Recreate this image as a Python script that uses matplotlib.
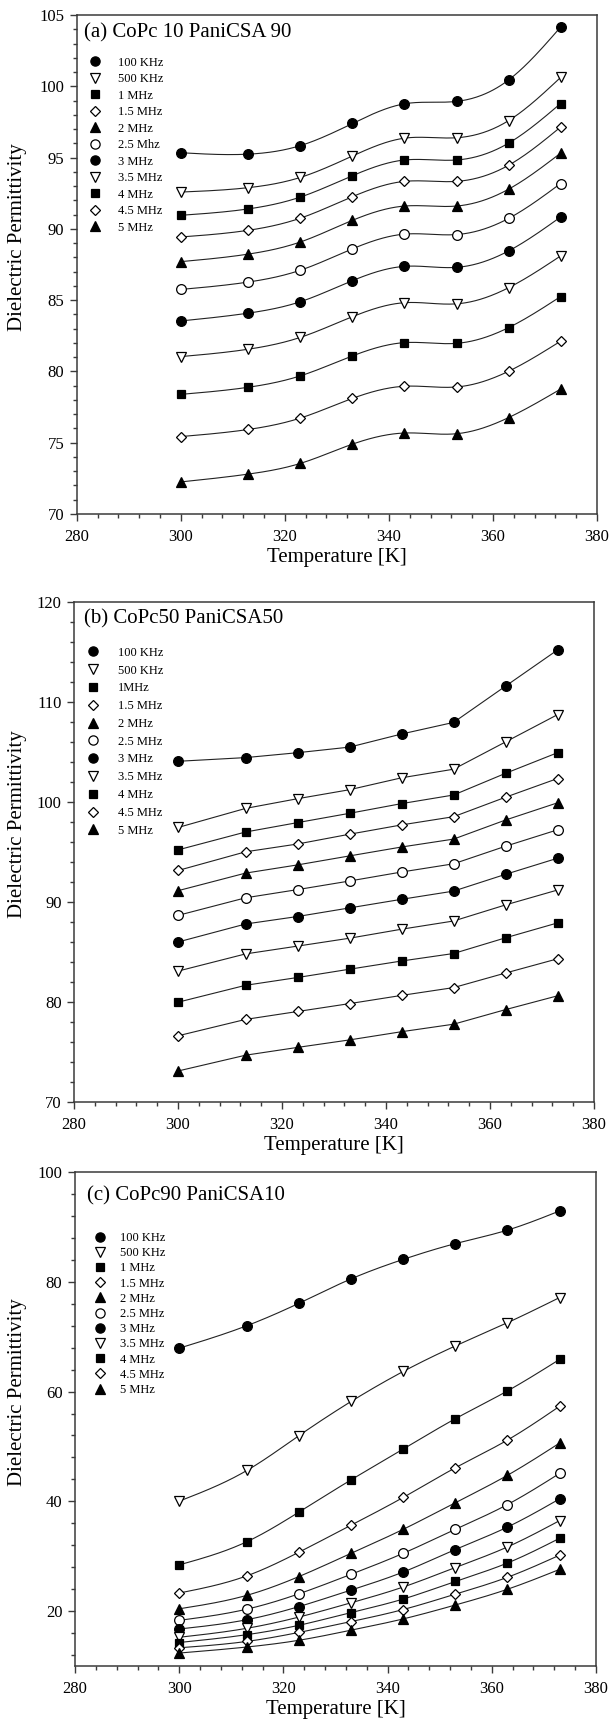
import numpy as np
import matplotlib
matplotlib.use("Agg")
import matplotlib.pyplot as plt
from matplotlib.lines import Line2D
from matplotlib.ticker import MultipleLocator

plt.rcParams['font.family'] = ['Liberation Serif', 'DejaVu Serif']

# --- data ---
temps = [300, 313, 323, 333, 343, 353, 363, 373]

labels_a = ["100 KHz", "500 KHz", "1 MHz", "1.5 MHz", "2 MHz", "2.5 Mhz",
            "3 MHz", "3.5 MHz", "4 MHz", "4.5 MHz", "5 MHz"]
labels_b = ["100 KHz", "500 KHz", "1MHz", "1.5 MHz", "2 MHz", "2.5 MHz",
            "3 MHz", "3.5 MHz", "4 MHz", "4.5 MHz", "5 MHz"]
labels_c = ["100 KHz", "500 KHz", "1 MHz", "1.5 MHz", "2 MHz", "2.5 MHz",
            "3 MHz", "3.5 MHz", "4 MHz", "4.5 MHz", "5 MHz"]

eps_a = [
    [95.34, 95.24, 95.84, 97.39, 98.77, 98.94, 100.44, 104.15],
    [92.58, 92.89, 93.61, 95.11, 96.36, 96.39, 97.59, 100.62],
    [90.95, 91.40, 92.23, 93.73, 94.83, 94.83, 96.01, 98.79],
    [89.43, 89.90, 90.75, 92.26, 93.33, 93.33, 94.46, 97.14],
    [87.70, 88.23, 89.08, 90.60, 91.60, 91.60, 92.78, 95.31],
    [85.75, 86.27, 87.10, 88.60, 89.63, 89.60, 90.73, 93.18],
    [83.54, 84.09, 84.89, 86.37, 87.37, 87.30, 88.45, 90.83],
    [81.04, 81.56, 82.39, 83.84, 84.82, 84.74, 85.87, 88.10],
    [78.39, 78.89, 79.69, 81.09, 82.02, 81.97, 83.07, 85.25],
    [75.43, 75.93, 76.73, 78.11, 78.96, 78.91, 80.01, 82.12],
    [72.25, 72.80, 73.55, 74.90, 75.68, 75.63, 76.76, 78.76],
]
eps_b = [
    [104.07, 104.44, 104.93, 105.49, 106.80, 107.96, 111.59, 115.21],
    [97.45, 99.36, 100.33, 101.23, 102.42, 103.28, 106.01, 108.74],
    [95.21, 97.00, 97.94, 98.87, 99.84, 100.70, 102.87, 104.93],
    [93.15, 95.02, 95.80, 96.78, 97.71, 98.53, 100.48, 102.35],
    [91.13, 92.89, 93.71, 94.61, 95.50, 96.29, 98.20, 99.92],
    [88.66, 90.42, 91.24, 92.10, 93.00, 93.82, 95.58, 97.22],
    [86.00, 87.80, 88.55, 89.41, 90.27, 91.09, 92.77, 94.38],
    [83.09, 84.81, 85.59, 86.38, 87.28, 88.10, 89.71, 91.20],
    [79.98, 81.67, 82.45, 83.28, 84.10, 84.85, 86.42, 87.91],
    [76.62, 78.26, 79.05, 79.84, 80.66, 81.44, 82.90, 84.32],
    [73.10, 74.68, 75.46, 76.21, 77.03, 77.78, 79.24, 80.62],
]
eps_c = [
    [67.90, 72.00, 76.09, 80.53, 84.08, 86.95, 89.41, 92.90],
    [40.03, 45.63, 51.98, 58.20, 63.66, 68.31, 72.54, 77.12],
    [28.42, 32.65, 38.05, 43.92, 49.52, 55.05, 60.11, 65.85],
    [23.29, 26.43, 30.74, 35.66, 40.71, 46.11, 51.16, 57.31],
    [20.42, 22.88, 26.30, 30.53, 34.90, 39.75, 44.74, 50.61],
    [18.31, 20.36, 23.16, 26.71, 30.53, 34.90, 39.41, 45.08],
    [16.74, 18.44, 20.83, 23.84, 27.12, 31.22, 35.31, 40.44],
    [15.23, 16.87, 18.92, 21.52, 24.39, 27.94, 31.69, 36.48],
    [14.28, 15.71, 17.42, 19.74, 22.20, 25.41, 28.76, 33.26],
    [13.32, 14.48, 16.12, 18.10, 20.29, 23.09, 26.16, 30.19],
    [12.36, 13.46, 14.69, 16.53, 18.58, 21.11, 23.98, 27.60],
]

# marker style per frequency: (marker, filled, size)
styles = [("o", True, 7), ("v", False, 7), ("s", True, 6), ("D", False, 5.5),
          ("^", True, 7), ("o", False, 7), ("o", True, 7), ("v", False, 7),
          ("s", True, 6), ("D", False, 5.5), ("^", True, 7)]


def spline(x, y, n=300):
    # natural cubic spline, only used to draw the smooth connecting curve
    x = np.asarray(x, float)
    y = np.asarray(y, float)
    m = len(x)
    h = np.diff(x)
    A = np.zeros((m, m))
    r = np.zeros(m)
    A[0, 0] = A[-1, -1] = 1
    for i in range(1, m - 1):
        A[i, i - 1] = h[i - 1]
        A[i, i] = 2 * (h[i - 1] + h[i])
        A[i, i + 1] = h[i]
        r[i] = 6 * ((y[i + 1] - y[i]) / h[i] - (y[i] - y[i - 1]) / h[i - 1])
    M = np.linalg.solve(A, r)
    xs = np.linspace(x[0], x[-1], n)
    k = np.clip(np.searchsorted(x, xs) - 1, 0, m - 2)
    t0 = x[k + 1] - xs
    t1 = xs - x[k]
    hk = h[k]
    ys = (M[k] * t0**3 + M[k + 1] * t1**3) / (6 * hk) \
        + (y[k] / hk - M[k] * hk / 6) * t0 + (y[k + 1] / hk - M[k + 1] * hk / 6) * t1
    return xs, ys


W, H = 609, 1729
LEG_FS = 9
fig = plt.figure(figsize=(W / 100, H / 100), dpi=100)

# panel boxes in pixels: left, top, right, bottom
# legend targets in pixels: first row centre y, row spacing, marker x, text x
panels = [
    dict(box=(76.7, 15, 597, 514), data=eps_a, labels=labels_a, smooth=True,
         title="(a) CoPc 10 PaniCSA 90", ylim=(70, 105), major=5, minor=1,
         tpos=(84, 33), leg=(62.7, 16.5, 95, 118)),
    dict(box=(74, 602, 594, 1102), data=eps_b, labels=labels_b, smooth=False,
         title="(b) CoPc50 PaniCSA50", ylim=(70, 120), major=10, minor=2,
         tpos=(84, 619), leg=(652.7, 17.8, 93, 118)),
    dict(box=(75, 1172, 596, 1666), data=eps_c, labels=labels_c, smooth=True,
         title="(c) CoPc90 PaniCSA10", ylim=(10, 100), major=20, minor=4,
         tpos=(87, 1196), leg=(1238, 15.2, 100, 120)),
]

spine_col = "#3a3a3a"
handles = [Line2D([], [], ls="none", marker=mk, ms=ms * 0.95,
                  mfc="black" if filled else "white", mec="black", mew=0.9)
           for (mk, filled, ms) in styles]


def add_legend(ax, p, lsp, top_px):
    l, t, r, b = p["box"]
    first_y, sp, mx, tx = p["leg"]
    fs_px = LEG_FS * 100 / 72
    hl = 1.0
    box_left = mx - hl * fs_px / 2
    pad = (tx - (box_left + hl * fs_px)) / fs_px
    return ax.legend(handles, p["labels"], loc="upper left",
                     bbox_to_anchor=((box_left - l) / (r - l), 1 - (top_px - t) / (b - t)),
                     frameon=False, fontsize=LEG_FS, handlelength=hl,
                     handletextpad=pad, labelspacing=lsp, borderpad=0,
                     borderaxespad=0)


axes = []
for p in panels:
    l, t, r, b = p["box"]
    ax = fig.add_axes([l / W, 1 - b / H, (r - l) / W, (b - t) / H])
    axes.append(ax)

    for vals, (mk, filled, ms) in zip(p["data"], styles):
        if p["smooth"]:
            xs, ys = spline(temps, vals)
            ax.plot(xs, ys, color="#222222", lw=0.8, zorder=2)
        else:
            ax.plot(temps, vals, color="#222222", lw=0.8, zorder=2)
        ax.plot(temps, vals, ls="none", marker=mk, ms=ms,
                mfc="black" if filled else "white", mec="black", mew=0.9, zorder=3)

    p["lsp"] = 0.2
    p["top"] = p["leg"][0] - 7
    p["legend"] = add_legend(ax, p, p["lsp"], p["top"])

    ax.text((p["tpos"][0] - l) / (r - l), 1 - (p["tpos"][1] - t) / (b - t), p["title"],
            transform=ax.transAxes, fontsize=15, ha="left", va="center")

    ax.set_xlim(280, 380)
    ax.set_ylim(*p["ylim"])
    ax.xaxis.set_major_locator(MultipleLocator(20))
    ax.xaxis.set_minor_locator(MultipleLocator(4))
    ax.yaxis.set_major_locator(MultipleLocator(p["major"]))
    ax.yaxis.set_minor_locator(MultipleLocator(p["minor"]))
    ax.tick_params(which="both", direction="out", top=False, right=False,
                   color=spine_col, width=1.0)
    ax.tick_params(which="major", length=5, labelsize=12, pad=4)
    ax.tick_params(axis="x", which="major", pad=6)
    ax.tick_params(which="minor", length=3)
    for s in ax.spines.values():
        s.set_color(spine_col)
        s.set_linewidth(1.1)

    ax.set_xlabel("Temperature [K]", fontsize=15)
    ax.set_ylabel("Dielectric Permittivity", fontsize=15)
    ax.xaxis.set_label_coords(0.5, -34 / (b - t))
    ax.yaxis.set_label_coords(-(l - 27) / (r - l), 0.555)

# one pass to bring legend rows onto the measured spacing / position
fig.canvas.draw()
for ax, p in zip(axes, panels):
    first_y, sp, mx, tx = p["leg"]
    fs_px = LEG_FS * 100 / 72
    cy = [H - (bb.y0 + bb.y1) / 2 for bb in
          (tt.get_window_extent() for tt in p["legend"].get_texts())]
    got = (cy[-1] - cy[0]) / (len(cy) - 1)
    lsp = p["lsp"] + (sp - got) / fs_px
    top = p["top"] + (first_y - cy[0])
    p["legend"].remove()
    p["legend"] = add_legend(ax, p, lsp, top)

fig.savefig("out.png", dpi=100)
